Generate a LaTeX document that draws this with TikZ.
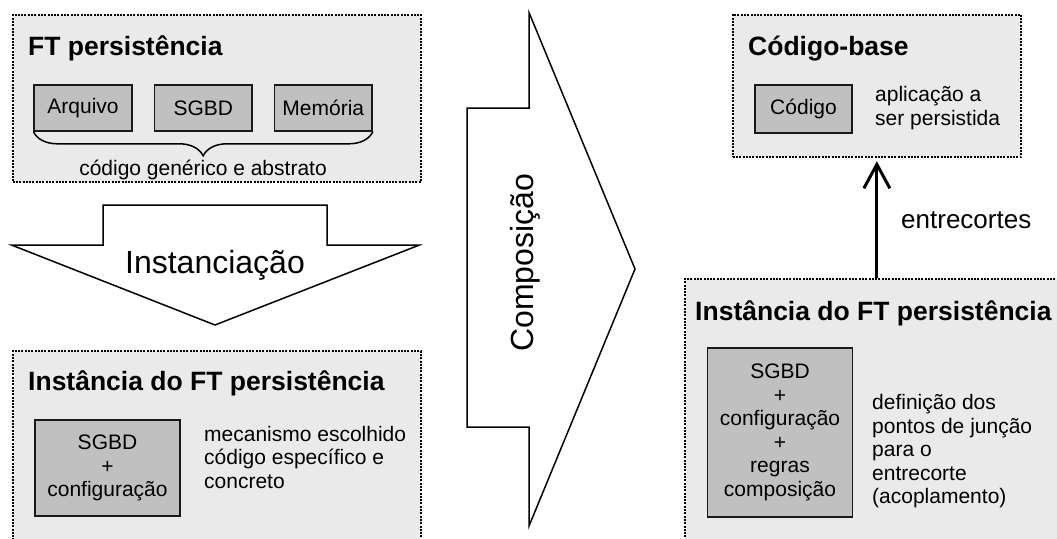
\documentclass[tikz,border=0pt]{standalone}
\usepackage{fontspec}
\setmainfont{Liberation Sans}
\usetikzlibrary{arrows.meta,decorations.pathreplacing}
\definecolor{panelgray}{HTML}{EAEAEA}
\definecolor{partgray}{HTML}{C0C0C0}
\begin{document}
\begin{tikzpicture}[x=1pt,y=-1pt,
  panel/.style={draw=black, fill=panelgray, line width=2.2pt,
    dash pattern=on 2pt off 1.3pt, rectangle, inner sep=0pt, anchor=north west},
  part/.style={draw=black!90, fill=partgray, line width=1.6pt, inner sep=0pt,
    align=center, font=\fontsize{21}{23.5}\selectfont},
  title/.style={font=\fontsize{26.5}{30}\selectfont\bfseries, anchor=base west, inner sep=0pt},
  note/.style={font=\fontsize{21}{23.5}\selectfont, align=left, anchor=north west, inner sep=0pt},
  bigarrow/.style={draw=black, fill=white, line width=1.5pt, line join=miter},
  big/.style={font=\fontsize{32}{36}\selectfont, inner sep=0pt}
]
\useasboundingbox (0,0) rectangle (1057,538);
\clip (0,0) rectangle (1057,538);

% dotted panels
\node[panel, minimum width=408.5, minimum height=167] (ftbox) at (11.5,14) {};
\node[panel, minimum width=408.5, minimum height=220] (instbox) at (11.5,350) {};
\node[panel, minimum width=288.5, minimum height=142.5] (basebox) at (731.5,13.5) {};
\node[panel, minimum width=400, minimum height=300] (instbox2) at (683.5,278) {};

% generic framework
\node[title] (ftt) at (28,55) {FT persistência};
\node[part, minimum width=97.5, minimum height=46] (arq) at (83,108) {Arquivo};
\node[part, minimum width=97.5, minimum height=46] (sgbd) at (203.3,108) {SGBD};
\node[part, minimum width=97.5, minimum height=46] (mem) at (323.3,108) {Memória};
\draw[line width=1.5pt, decorate, decoration={brace, amplitude=24pt, mirror}]
  (arq.south west) -- (mem.south east);
\node[font=\fontsize{21}{23.5}\selectfont, anchor=base, inner sep=0pt] (generic) at (203,175)
  {código genérico e abstrato};

% instantiation arrow
\draw[bigarrow] (103,205) -- (327,205) -- (327,245) -- (419.5,245) -- (215,325)
  -- (11.5,245) -- (103,245) -- cycle;
\node[big, anchor=base] (instlbl) at (215,273) {Instanciação};

% framework instance
\node[title] (inst1t) at (28,390) {Instância do FT persistência};
\node[part, minimum width=145, minimum height=96] (cfg1) at (107.5,468)
  {SGBD\\+\\configuração};
\node[note] (mech) at (204,426) {mecanismo escolhido\\código específico e\\concreto};

% composition arrow
\draw[bigarrow] (467,108) -- (529,108) -- (529,12.5) -- (635,269) -- (529,526)
  -- (529,427) -- (467,427) -- cycle;
\node[big, rotate=90, anchor=base west] (complbl) at (533,352) {Composição};

% base code
\node[title] (baset) at (748,55) {Código-base};
\node[part, minimum width=96.5, minimum height=48] (code) at (803.5,109) {Código};
\node[note] (app) at (875,86.5) {aplicação a\\ser persistida};

% composed instance
\node[title] (inst2t) at (695,320) {Instância do FT persistência};
\node[part, minimum width=145, minimum height=168.5] (cfg2) at (780,432.5)
  {SGBD\\+\\configuração\\+\\regras\\composição};
\node[note] (join) at (872,394.5)
  {definição dos\\pontos de junção\\para o\\entrecorte\\(acoplamento)};

% crosscutting
\draw[line width=3pt, -{Straight Barb[length=24pt,width=26pt,line width=3pt]}]
  (instbox2.north -| basebox.south) -- ([yshift=-3pt]basebox.south);
\node[font=\fontsize{26}{30}\selectfont, anchor=base west, inner sep=0pt] (cuts) at (901,228)
  {entrecortes};
\end{tikzpicture}
\end{document}
